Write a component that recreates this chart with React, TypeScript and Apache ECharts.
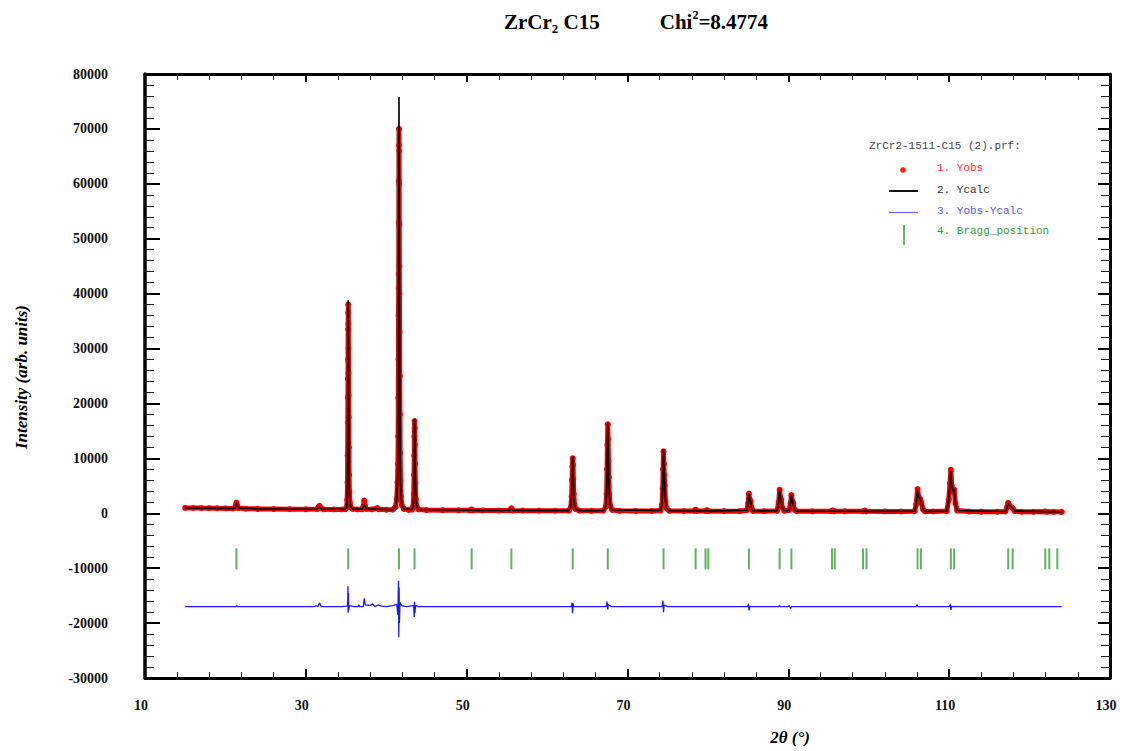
import React, { useEffect, useRef } from "react";
import * as echarts from "echarts";

// ---- data ----
const xTicks = [10, 30, 50, 70, 90, 110, 130];
const yTicks = [-30000, -20000, -10000, 0, 10000, 20000, 30000, 40000, 50000, 60000, 70000, 80000];

// observed intensity (2θ, counts)
const yObs: number[][] = [
  [15.0, 980], [16.0, 960], [17.0, 940], [18.0, 930], [19.0, 900], [20.0, 880], [20.9, 870],
  [21.2, 1000], [21.3, 1500], [21.38, 1950], [21.46, 1400], [21.6, 950], [22.5, 840], [24.0, 800],
  [26.0, 770], [28.0, 740], [30.0, 720], [31.4, 760], [31.6, 1150], [31.7, 1350], [31.8, 1000],
  [32.2, 720], [33.5, 700], [34.5, 690], [34.95, 760], [35.08, 1100], [35.14, 2400], [35.18, 5600],
  [35.2, 10500], [35.22, 16500], [35.23, 21000], [35.24, 24500], [35.25, 28000], [35.26, 33500],
  [35.27, 36500], [35.275, 38000], [35.29, 34500], [35.3, 30000], [35.31, 25500], [35.32, 21500],
  [35.33, 17500], [35.35, 12000], [35.38, 7000], [35.42, 3800], [35.48, 1900], [35.58, 1100],
  [35.8, 800], [36.4, 700], [37.0, 720], [37.15, 1200], [37.26, 2300], [37.35, 1500], [37.5, 800],
  [38.2, 700], [38.9, 950], [39.1, 720], [40.0, 650], [40.8, 680], [41.15, 1100], [41.3, 2600],
  [41.4, 5600], [41.45, 9000], [41.48, 14000], [41.5, 21000], [41.52, 28000], [41.53, 36000],
  [41.54, 41000], [41.55, 43500], [41.56, 53000], [41.57, 60500], [41.58, 67000], [41.585, 70000],
  [41.6, 66000], [41.61, 60000], [41.62, 52500], [41.63, 45000], [41.64, 40000], [41.66, 33000],
  [41.68, 25000], [41.7, 18000], [41.73, 11000], [41.77, 6000], [41.83, 3000], [41.95, 1400],
  [42.2, 800], [42.8, 620], [43.2, 680], [43.35, 1300], [43.42, 3500], [43.46, 7000], [43.48, 10500],
  [43.5, 14000], [43.52, 16800], [43.54, 15500], [43.56, 12500], [43.58, 9000], [43.62, 5500],
  [43.68, 2600], [43.78, 1200], [44.0, 700], [45.0, 580], [47.0, 560], [49.0, 540], [50.4, 540],
  [50.62, 700], [50.8, 530], [52.0, 510], [54.0, 500], [55.35, 520], [55.56, 900], [55.75, 500],
  [57.0, 480], [59.0, 470], [61.0, 460], [62.7, 480], [62.95, 1100], [63.05, 3000], [63.1, 6000],
  [63.15, 8500], [63.19, 10000], [63.23, 8800], [63.27, 6200], [63.32, 3500], [63.4, 1600],
  [63.55, 750], [64.0, 480], [65.5, 450], [67.0, 460], [67.3, 1200], [67.4, 3500], [67.46, 8000],
  [67.5, 12500], [67.55, 16200], [67.59, 13500], [67.63, 9500], [67.68, 6500], [67.74, 3500],
  [67.85, 1400], [68.1, 600], [69.0, 440], [71.0, 420], [73.0, 410], [74.1, 500], [74.3, 1600],
  [74.38, 4500], [74.43, 8000], [74.48, 11300], [74.52, 9000], [74.57, 7000], [74.63, 5000],
  [74.72, 2200], [74.85, 900], [75.2, 450], [77.0, 410], [78.3, 420], [78.47, 650], [78.65, 410],
  [79.7, 430], [79.87, 600], [80.05, 400], [82.0, 390], [84.0, 380], [84.85, 550], [85.0, 1800],
  [85.1, 3600], [85.2, 2500], [85.3, 2200], [85.42, 1000], [85.6, 420], [87.0, 370], [88.6, 450],
  [88.8, 2000], [88.92, 4300], [89.02, 2800], [89.12, 2400], [89.25, 1000], [89.5, 450], [90.1, 550],
  [90.28, 1800], [90.38, 3300], [90.5, 2200], [90.6, 1800], [90.75, 700], [91.0, 380], [93.0, 360],
  [95.3, 370], [95.5, 520], [95.7, 360], [97.0, 350], [99.3, 360], [99.5, 500], [99.7, 350],
  [102.0, 330], [104.0, 320], [105.7, 380], [105.9, 1600], [106.07, 4400], [106.2, 3000],
  [106.4, 2600], [106.55, 1900], [106.75, 700], [107.0, 340], [108.0, 320], [109.7, 400],
  [109.95, 2500], [110.1, 5500], [110.21, 7900], [110.32, 5000], [110.5, 4000], [110.62, 4300],
  [110.78, 1800], [111.0, 500], [112.5, 310], [114.0, 300], [116.0, 290], [117.0, 330],
  [117.2, 1100], [117.34, 1900], [117.5, 1400], [117.75, 1100], [117.9, 900], [118.15, 400],
  [119.0, 280], [120.5, 270], [121.9, 330], [122.2, 260], [123.0, 260], [124.0, 250],
];

// calculated profile
const yCalc: number[][] = [
  [15.0, 960], [20.9, 870], [21.2, 1000], [21.38, 1900], [21.6, 950], [24.0, 800], [28.0, 740],
  [31.4, 760], [31.7, 1150], [32.0, 720], [34.95, 760], [35.08, 1100], [35.14, 2400], [35.18, 5600],
  [35.22, 16500], [35.25, 28000], [35.275, 38800], [35.3, 30000], [35.33, 17500], [35.38, 7000],
  [35.42, 3800], [35.48, 1900], [35.58, 1100], [35.8, 800], [37.0, 720], [37.26, 1600], [37.5, 800],
  [40.8, 650], [41.15, 1100], [41.3, 2600], [41.4, 5600], [41.48, 14000], [41.53, 36000],
  [41.585, 75800], [41.63, 45000], [41.68, 25000], [41.73, 11000], [41.77, 6000], [41.83, 3000],
  [41.95, 1400], [42.2, 800], [43.2, 680], [43.35, 1300], [43.42, 3500], [43.48, 10500],
  [43.52, 17200], [43.56, 12500], [43.62, 5500], [43.68, 2600], [43.78, 1200], [44.0, 700],
  [50.4, 540], [50.62, 650], [50.8, 530], [55.35, 510], [55.56, 800], [55.75, 500], [62.7, 480],
  [62.95, 1100], [63.05, 3000], [63.1, 6000], [63.19, 10300], [63.27, 6200], [63.32, 3500],
  [63.4, 1600], [63.55, 750], [64.0, 480], [67.0, 460], [67.3, 1200], [67.4, 3500], [67.46, 8000],
  [67.55, 16500], [67.63, 9500], [67.68, 6500], [67.74, 3500], [67.85, 1400], [68.1, 600],
  [74.1, 500], [74.3, 1600], [74.38, 4500], [74.48, 11600], [74.57, 7000], [74.63, 5000],
  [74.72, 2200], [74.85, 900], [75.2, 450], [78.3, 420], [78.47, 600], [78.65, 410], [79.7, 430],
  [79.87, 560], [80.05, 400], [84.85, 550], [85.0, 1800], [85.1, 3700], [85.2, 2500], [85.3, 2200],
  [85.42, 1000], [85.6, 420], [88.6, 450], [88.8, 2000], [88.92, 4300], [89.02, 2800], [89.12, 2400],
  [89.25, 1000], [89.5, 450], [90.1, 550], [90.28, 1800], [90.38, 3400], [90.5, 2200], [90.6, 1800],
  [90.75, 700], [91.0, 380], [95.3, 370], [95.5, 480], [95.7, 360], [99.3, 360], [99.5, 460],
  [99.7, 350], [105.7, 380], [105.9, 1600], [106.07, 4200], [106.2, 3000], [106.4, 2600],
  [106.55, 1900], [106.75, 700], [107.0, 340], [109.7, 400], [109.95, 2500], [110.1, 5500],
  [110.21, 7700], [110.32, 5000], [110.5, 4000], [110.62, 4300], [110.78, 1800], [111.0, 500],
  [117.0, 330], [117.2, 1100], [117.34, 1900], [117.5, 1400], [117.75, 1100], [117.9, 900],
  [118.15, 400], [124.0, 250],
];

// Yobs - Ycalc (plotted shifted by diffOffset)
const diffOffset = -17000;
const yDiff: number[][] = [
  [15.0, 0], [20.0, 0], [21.3, 0], [21.38, 150], [21.5, 0], [25.0, 0], [30.0, 0], [31.1, 0],
  [31.2, 200], [31.5, 0], [31.7, 700], [31.9, 0], [34.5, 0], [35.1, 100], [35.2, 300],
  [35.24, 3700], [35.26, -1100], [35.3, 2500], [35.33, -700], [35.4, 200], [36.0, 0], [36.5, 0],
  [36.6, 300], [36.7, 0], [37.15, 0], [37.26, 1500], [37.4, 300], [38.0, 200], [38.3, 500],
  [38.6, 0], [39.0, 300], [39.4, 100], [40.0, 0], [40.8, 200], [41.3, 400], [41.45, -1500],
  [41.52, 4700], [41.56, -5600], [41.6, 3500], [41.64, -3000], [41.7, 800], [41.9, 200], [42.5, 0],
  [43.4, 200], [43.48, -1900], [43.52, 900], [43.56, -1200], [43.65, 200], [44.0, 0], [63.0, 0],
  [63.1, 700], [63.17, -1200], [63.23, 600], [63.3, 0], [67.35, 0], [67.45, 900], [67.55, -500],
  [67.6, 400], [68.0, 0], [74.3, 0], [74.4, 1100], [74.48, -1000], [74.55, 300], [75.0, 0],
  [84.95, 0], [85.05, 500], [85.12, -700], [85.2, 0], [88.8, 0], [88.9, 200], [89.0, 0],
  [90.0, 0], [90.1, 150], [90.3, -350], [90.4, 0], [105.9, 0], [106.0, 400], [106.1, 0],
  [110.05, 0], [110.15, 500], [110.22, -600], [110.3, 0], [124.0, 0],
];

// Bragg reflections (2θ)
const braggPositions = [
  21.37, 35.27, 41.58, 43.52, 50.62, 55.56, 63.19, 67.55, 74.48, 78.47, 79.7, 80.05, 85.1,
  88.92, 90.38, 95.43, 95.77, 99.29, 99.72, 106.07, 106.48, 110.21, 110.62, 117.34, 117.89,
  121.95, 122.45, 123.45,
];
const braggLevel = -8300;

const SERIF = "'Liberation Serif', 'Times New Roman', serif";
const MONO = "'Liberation Mono', 'DejaVu Sans Mono', monospace";

export default function App() {
  const ref = useRef<HTMLDivElement>(null);

  useEffect(() => {
    if (!ref.current) return;
    const chart = echarts.init(ref.current, undefined, { renderer: "svg" });

    const axisLabelStyle = {
      fontFamily: SERIF,
      fontWeight: "bold" as const,
      fontSize: 14,
      color: "#111",
    };

    const option: any = {
      animation: false,
      backgroundColor: "#ffffff",
      title: {
        left: 499,
        top: 4,
        text: "{a|ZrCr}{sub|2}{a| C15}{gap| }{a|Chi}{sup|2}{a|=8.4774}",
        textStyle: {
          rich: {
            a: { fontFamily: SERIF, fontWeight: "bold", fontSize: 21, color: "#000", lineHeight: 26 },
            sub: { fontFamily: SERIF, fontWeight: "bold", fontSize: 13, color: "#000", lineHeight: 14, verticalAlign: "bottom" },
            sup: { fontFamily: SERIF, fontWeight: "bold", fontSize: 12, color: "#000", lineHeight: 14, verticalAlign: "top" },
            gap: { width: 60, fontSize: 21, lineHeight: 26 },
          },
        },
      },
      grid: { left: 145, right: 14, top: 74, bottom: 73, containLabel: false },
      xAxis: [
        {
          type: "value",
          min: 10,
          max: 130,
          interval: 20,
          position: "bottom",
          axisLine: { show: true, onZero: false, lineStyle: { color: "#000", width: 3 } },
          axisTick: { show: true, inside: true, length: 9, lineStyle: { color: "#000", width: 2 } },
          minorTick: { show: true, splitNumber: 5, length: 6, lineStyle: { color: "#222", width: 1 } },
          splitLine: { show: false },
          axisLabel: {
            ...axisLabelStyle,
            margin: 20,
            padding: [0, 8, 0, 0],
            customValues: xTicks,
            formatter: (v: number) => String(v),
          },
        },
        {
          type: "value",
          min: 10,
          max: 130,
          interval: 20,
          position: "top",
          axisLine: { show: true, onZero: false, lineStyle: { color: "#000", width: 3 } },
          axisTick: { show: true, inside: true, length: 8, lineStyle: { color: "#000", width: 2 } },
          minorTick: { show: true, splitNumber: 5, length: 6, lineStyle: { color: "#222", width: 1 } },
          splitLine: { show: false },
          axisLabel: { show: false },
        },
      ],
      yAxis: [
        {
          type: "value",
          min: -30000,
          max: 80000,
          interval: 10000,
          position: "left",
          axisLine: { show: true, onZero: false, lineStyle: { color: "#000", width: 3.5 } },
          axisTick: { show: true, inside: true, length: 15, lineStyle: { color: "#000", width: 2 } },
          minorTick: { show: true, splitNumber: 5, length: 9, lineStyle: { color: "#222", width: 1 } },
          splitLine: { show: false },
          axisLabel: {
            ...axisLabelStyle,
            margin: 37,
            customValues: yTicks,
            formatter: (v: number) => String(v),
          },
        },
        {
          type: "value",
          min: -30000,
          max: 80000,
          interval: 10000,
          position: "right",
          axisLine: { show: true, onZero: false, lineStyle: { color: "#000", width: 3 } },
          axisTick: { show: true, inside: true, length: 12, lineStyle: { color: "#000", width: 2 } },
          minorTick: { show: true, splitNumber: 5, length: 9, lineStyle: { color: "#222", width: 1 } },
          splitLine: { show: false },
          axisLabel: { show: false },
        },
      ],
      graphic: [
        {
          type: "text",
          x: 21,
          y: 377,
          rotation: Math.PI / 2,
          style: {
            text: "Intensity (arb. units)",
            font: `italic bold 17px ${SERIF}`,
            fill: "#000",
            textAlign: "center",
            textVerticalAlign: "middle",
          },
        },
        {
          type: "text",
          x: 790,
          y: 737,
          style: {
            text: "2θ (°)",
            font: `italic bold 17px ${SERIF}`,
            fill: "#000",
            textAlign: "center",
            textVerticalAlign: "middle",
          },
        },
        // legend
        {
          type: "text",
          x: 869,
          y: 146,
          style: { text: "ZrCr2-1511-C15 (2).prf:", font: `11px ${MONO}`, fill: "#444", textVerticalAlign: "middle" },
        },
        { type: "circle", shape: { cx: 903, cy: 170, r: 2.8 }, style: { fill: "#ff1a1a" } },
        {
          type: "text",
          x: 937,
          y: 168,
          style: { text: "1. Yobs", font: `11px ${MONO}`, fill: "#ff3030", textVerticalAlign: "middle" },
        },
        { type: "line", shape: { x1: 889, y1: 191, x2: 918, y2: 191 }, style: { stroke: "#111", lineWidth: 2 } },
        {
          type: "text",
          x: 937,
          y: 190,
          style: { text: "2. Ycalc", font: `11px ${MONO}`, fill: "#333", textVerticalAlign: "middle" },
        },
        { type: "line", shape: { x1: 889, y1: 212.5, x2: 918, y2: 212.5 }, style: { stroke: "#6a6aff", lineWidth: 1.2 } },
        {
          type: "text",
          x: 937,
          y: 211,
          style: { text: "3. Yobs-Ycalc", font: `11px ${MONO}`, fill: "#5555ff", textVerticalAlign: "middle" },
        },
        { type: "line", shape: { x1: 904, y1: 225, x2: 904, y2: 245 }, style: { stroke: "#3a9d3a", lineWidth: 1.5 } },
        {
          type: "text",
          x: 937,
          y: 231,
          style: { text: "4. Bragg_position", font: `11px ${MONO}`, fill: "#3a9d3a", textVerticalAlign: "middle" },
        },
      ],
      series: [
        {
          name: "Yobs",
          type: "line",
          xAxisIndex: 0,
          yAxisIndex: 0,
          data: yObs,
          showSymbol: true,
          symbol: "circle",
          symbolSize: 6,
          itemStyle: { color: "#ee0000" },
          lineStyle: { color: "#ee0000", width: 5 },
          z: 2,
        },
        {
          name: "Ycalc",
          type: "line",
          xAxisIndex: 0,
          yAxisIndex: 0,
          data: yCalc,
          showSymbol: false,
          lineStyle: { color: "#000", width: 1.6 },
          z: 3,
        },
        {
          name: "Yobs-Ycalc",
          type: "line",
          xAxisIndex: 0,
          yAxisIndex: 0,
          data: yDiff.map((p) => [p[0], p[1] + diffOffset]),
          showSymbol: false,
          lineStyle: { color: "#1a1aff", width: 1.3 },
          z: 2,
        },
        {
          name: "Bragg_position",
          type: "scatter",
          xAxisIndex: 0,
          yAxisIndex: 0,
          data: braggPositions.map((x) => [x, braggLevel]),
          symbol: "rect",
          symbolSize: [2, 21],
          itemStyle: { color: "#3a9d3a" },
          z: 2,
        },
      ],
    };

    chart.setOption(option);
    return () => chart.dispose();
  }, []);

  return (
    <div
      ref={ref}
      style={{ position: "fixed", left: 0, top: 0, width: 1124, height: 751, background: "#fff" }}
    />
  );
}
